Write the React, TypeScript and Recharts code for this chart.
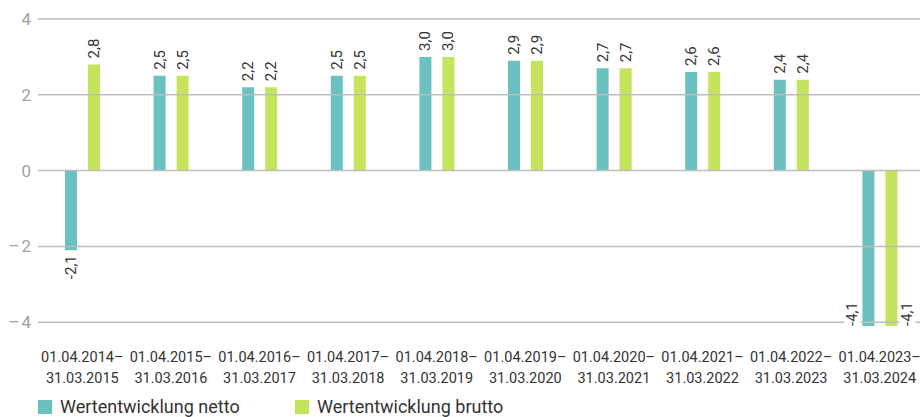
import React from 'react';
import { BarChart, Bar, XAxis, YAxis, ReferenceLine, Legend, LabelList } from 'recharts';

const periods = [
  ['01.04.2014–', '31.03.2015'],
  ['01.04.2015–', '31.03.2016'],
  ['01.04.2016–', '31.03.2017'],
  ['01.04.2017–', '31.03.2018'],
  ['01.04.2018–', '31.03.2019'],
  ['01.04.2019–', '31.03.2020'],
  ['01.04.2020–', '31.03.2021'],
  ['01.04.2021–', '31.03.2022'],
  ['01.04.2022–', '31.03.2023'],
  ['01.04.2023–', '31.03.2024'],
];
const netto = [-2.1, 2.5, 2.2, 2.5, 3.0, 2.9, 2.7, 2.6, 2.4, -4.1];
const brutto = [2.8, 2.5, 2.2, 2.5, 3.0, 2.9, 2.7, 2.6, 2.4, -4.1];
const yTicks = [-4, -2, 0, 2, 4];

const TEAL = '#6bc1bf';
const LIME = '#c5e35c';
const FONT = 'Roboto, "Noto Sans", sans-serif';

const data = periods.map((p, i) => ({
  period: p.join('|'),
  netto: netto[i],
  brutto: brutto[i],
}));

const fmt = (v: number) => v.toFixed(1).replace('.', ',');

const makeLabel = (side: 'left' | 'right') => (props: any) => {
  const { x, y, width, height, value } = props;
  const top = Math.min(y, y + height);
  const bottom = Math.max(y, y + height);
  const cx = x + width / 2;
  const style = { fontSize: 15, fill: '#333', fontFamily: FONT };
  if (value < -4) {
    // no room below: put label beside the bar
    const lx = side === 'left' ? x - 10 : x + width + 10;
    return (
      <g>
        <rect x={lx - 8} y={bottom - 30} width={16} height={32} fill="#fff" />
        <text
          x={lx}
          y={bottom}
          transform={`rotate(-90 ${lx} ${bottom})`}
          textAnchor="start"
          dominantBaseline="central"
          style={style}
        >
          {fmt(value)}
        </text>
      </g>
    );
  }
  const ly = value >= 0 ? top - 6 : bottom + 5;
  return (
    <text
      x={cx}
      y={ly}
      transform={`rotate(-90 ${cx} ${ly})`}
      textAnchor={value >= 0 ? 'start' : 'end'}
      dominantBaseline="central"
      style={style}
    >
      {fmt(value)}
    </text>
  );
};

const PeriodTick = (props: any) => {
  const { x, y, payload } = props;
  const [a, b] = String(payload.value).split('|');
  return (
    <text x={x} y={y} textAnchor="middle" style={{ fontSize: 14.5, fill: '#333', fontFamily: FONT }}>
      <tspan x={x} dy={28}>{a}</tspan>
      <tspan x={x} dy={21}>{b}</tspan>
    </text>
  );
};

const LegendBox = () => (
  <div style={{ height: 41, position: 'relative', fontFamily: FONT, fontSize: 18, color: '#333' }}>
    {[
      { name: 'Wertentwicklung netto', color: TEAL, left: 38 },
      { name: 'Wertentwicklung brutto', color: LIME, left: 295 },
    ].map((it) => (
      <div key={it.name} style={{ position: 'absolute', left: it.left, top: 21, height: 20, display: 'flex', alignItems: 'center', whiteSpace: 'nowrap' }}>
        <span style={{ display: 'inline-block', width: 14, height: 14, background: it.color, marginRight: 8 }} />
        <span style={{ lineHeight: '20px' }}>{it.name}</span>
      </div>
    ))}
  </div>
);

export default function App() {
  return (
    <div style={{ position: 'absolute', left: 0, top: 0, width: 920, height: 417, overflow: 'hidden', background: '#fff' }}>
      <BarChart
        width={924}
        height={417}
        data={data}
        margin={{ top: 19, right: 0, left: 0, bottom: 0 }}
        barSize={12}
        barGap={11}
      >
        {yTicks.map((t) => (
          <ReferenceLine key={t} y={t} stroke="#bdbdbd" strokeWidth={1.5} />
        ))}
        <XAxis
          dataKey="period"
          axisLine={false}
          tickLine={false}
          interval={0}
          height={50}
          tick={<PeriodTick />}
        />
        <YAxis
          width={38}
          domain={[-4.1, 4]}
          ticks={yTicks}
          axisLine={false}
          tickLine={false}
          tickSize={6}
          tickMargin={1}
          interval={0}
          tick={{ fontSize: 17, fill: '#a0a0a0', fontFamily: FONT }}
          tickFormatter={(v: number) => (v < 0 ? `\u2013\u200a${Math.abs(v)}` : `${v}`)}
        />
        <Legend verticalAlign="bottom" content={<LegendBox />} />
        <Bar dataKey="netto" fill={TEAL} isAnimationActive={false}>
          <LabelList dataKey="netto" content={makeLabel('left')} />
        </Bar>
        <Bar dataKey="brutto" fill={LIME} isAnimationActive={false}>
          <LabelList dataKey="brutto" content={makeLabel('right')} />
        </Bar>
      </BarChart>
    </div>
  );
}
